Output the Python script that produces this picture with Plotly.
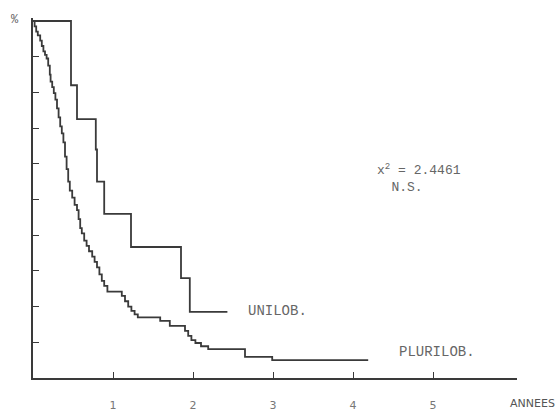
import plotly.graph_objects as go

# Unilobular group (time in years, survival %)
unilob_t = [0, 0.475, 0.55, 0.785, 0.80, 0.89, 1.225, 1.85, 1.96, 2.43]
unilob_s = [100, 82, 72.5, 64, 55, 46, 36.7, 28, 18.5, 18.5]

# Plurilobular group
pluri_t = [0, 0.02, 0.04, 0.06, 0.09, 0.11, 0.13, 0.15, 0.17, 0.19, 0.21, 0.22,
           0.24, 0.26, 0.28, 0.30, 0.32, 0.34, 0.36, 0.38, 0.40, 0.42, 0.44, 0.46,
           0.49, 0.52, 0.55, 0.57, 0.59, 0.61, 0.64, 0.67, 0.70, 0.74, 0.77, 0.80,
           0.83, 0.86, 0.89, 0.93, 1.11, 1.15, 1.19, 1.23, 1.27, 1.31, 1.59, 1.71,
           1.90, 1.94, 1.98, 2.03, 2.10, 2.19, 2.65, 2.99, 4.19]
pluri_s = [100, 98.5, 97, 96, 94.5, 93, 91.5, 90.5, 89.5, 87.5, 85, 83,
           81.5, 79.8, 78, 75.5, 73, 70.5, 68.5, 66, 62, 58.5, 55, 52.5,
           50.5, 48.5, 47, 44.5, 42, 40.5, 38.5, 37, 35.5, 34, 32.5, 31,
           29, 27.2, 25.8, 24.2, 23, 21.5, 20, 18.8, 17.8, 17, 16, 14.6,
           13.2, 11.8, 10.6, 9.8, 8.9, 8.1, 5.9, 5.0, 5.0]

x_ticks = [1, 2, 3, 4, 5]
x_ticklabels = ["1", "2", "3", "4", "5"]
y_ticks = [10, 20, 30, 40, 50, 60, 70, 80, 90]

line_col = "#3a3a3a"
txt_col = "#666666"
mono = "Liberation Mono, Courier New, monospace"

fig = go.Figure()
fig.add_trace(go.Scatter(x=unilob_t, y=unilob_s, mode="lines", line_shape="hv",
                         line=dict(color=line_col, width=1.8), cliponaxis=False,
                         showlegend=False))
fig.add_trace(go.Scatter(x=pluri_t, y=pluri_s, mode="lines", line_shape="hv",
                         line=dict(color=line_col, width=1.8), cliponaxis=False,
                         showlegend=False))

fig.update_layout(
    template="none",
    width=559, height=411,
    margin=dict(l=33, r=42, t=18, b=33),
    paper_bgcolor="white", plot_bgcolor="white",
    xaxis=dict(range=[0, 6.05], showgrid=False, zeroline=False, automargin=False,
               showline=True, linecolor=line_col, linewidth=1.5,
               ticks="inside", ticklen=6, tickwidth=1.3, tickcolor=line_col,
               tickvals=x_ticks, ticktext=x_ticklabels,
               tickfont=dict(family="DejaVu Sans", size=11, color="#777777"),
               ticklabelstandoff=16),
    yaxis=dict(range=[0, 100.84], showgrid=False, zeroline=False, automargin=False,
               showline=True, linecolor=line_col, linewidth=1.5,
               ticks="inside", ticklen=6, tickwidth=1.3, tickcolor=line_col,
               tickvals=y_ticks, showticklabels=False),
)

fig.add_annotation(text="%", x=-0.037, y=0.995, xref="paper", yref="paper",
                   xanchor="center", yanchor="middle",
                   showarrow=False, font=dict(family=mono, size=12, color=txt_col))
fig.add_annotation(text="x<sup>2</sup> = 2.4461<br>N.S.&nbsp;&nbsp;&nbsp;",
                   x=4.83, y=56.0, xref="x", yref="y", showarrow=False,
                   align="center", xanchor="center", yanchor="middle",
                   font=dict(family=mono, size=13, color=txt_col))
fig.add_annotation(text="UNILOB.", x=2.66, y=18.7, xref="x", yref="y",
                   xanchor="left", yanchor="middle", showarrow=False,
                   font=dict(family=mono, size=14, color=txt_col))
fig.add_annotation(text="PLURILOB.", x=4.55, y=7.2, xref="x", yref="y",
                   xanchor="left", yanchor="middle", showarrow=False,
                   font=dict(family=mono, size=14, color=txt_col))
fig.add_annotation(text="ANNEES", x=1.033, y=-0.07, xref="paper", yref="paper",
                   xanchor="center", yanchor="middle", showarrow=False,
                   font=dict(family="DejaVu Sans", size=11, color="#555555"))

fig.write_html("out.html")
